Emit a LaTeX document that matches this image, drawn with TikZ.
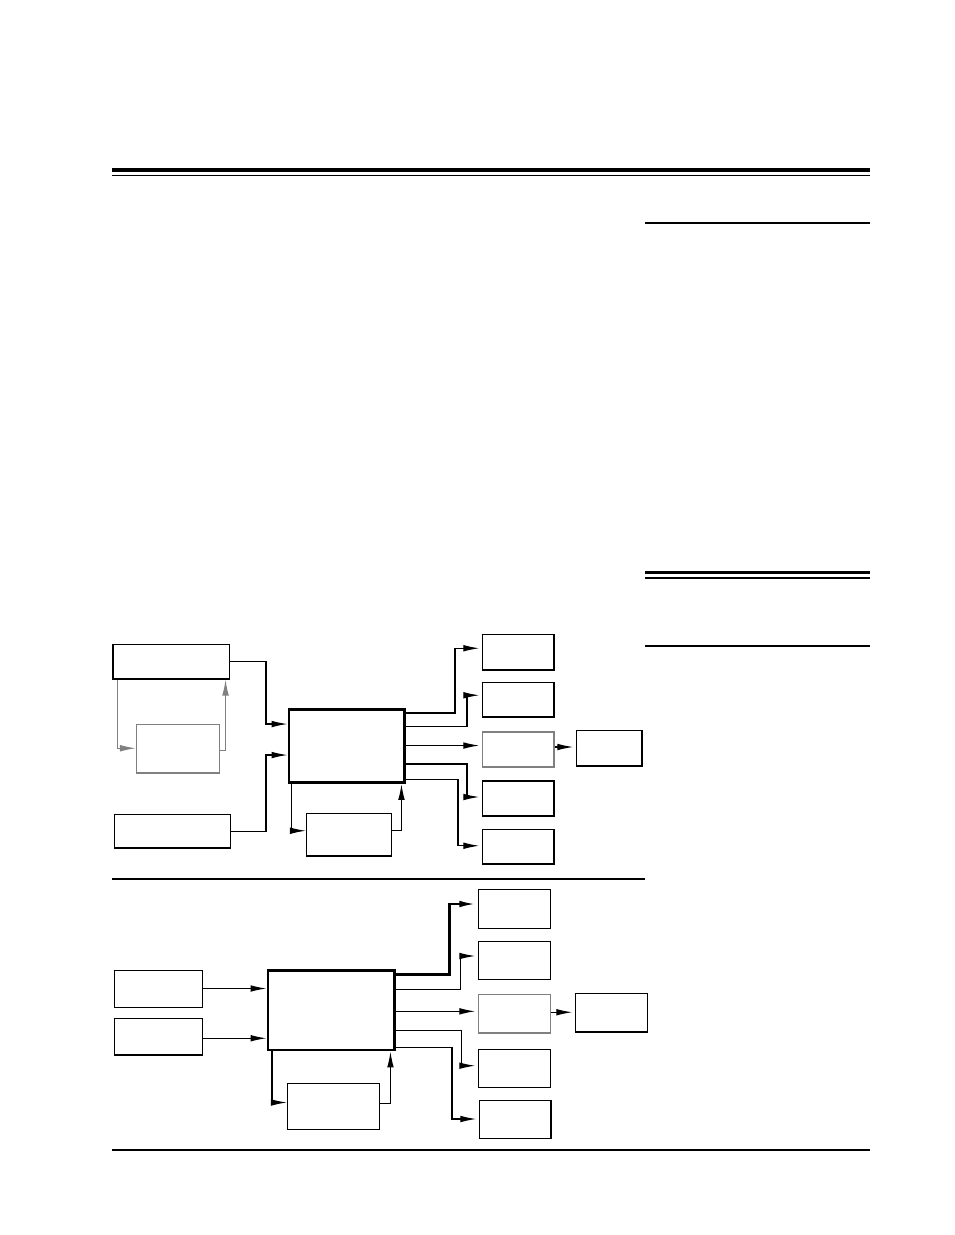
\documentclass[tikz,border=0pt]{standalone}
\usetikzlibrary{calc,fit,arrows.meta}

\begin{document}
\begin{tikzpicture}[x=0.75pt,y=-0.75pt,
  box/.style={draw,line width=0.8pt,inner sep=0pt},
  graybox/.style={box,draw=black!50},
  mainbox/.style={draw,line width=2.2pt,inner sep=0pt},
  link/.style={line width=0.9pt,-{Latex[length=12pt,width=5pt]}},
  graylink/.style={link,draw=black!50},
  rule/.style={line width=0.8pt}]
\useasboundingbox (0,0) rectangle (954,1235);
% page rules
\draw [line width=3pt] (112,170) -- (870,170);
\draw [rule] (112,175.5) -- (870,175.5);
\draw [rule] (645,223) -- (870,223);
\draw [line width=2.4pt] (645,572.5) -- (870,572.5);
\draw [rule] (645,578) -- (870,578);
\draw [line width=1.5pt] (645,646) -- (870,646);
\draw [rule] (112,879) -- (645,879);
\draw [rule] (112,1150) -- (870,1150);
% upper diagram
\node [box, fit={(113,644.5) (229.5,679)}] (srcA) {};
\node [graybox, fit={(136.5,724.5) (219.5,773)}] (aux) {};
\node [box, fit={(114.5,814.5) (230.5,848)}] (srcB) {};
\node [mainbox, fit={(289,709.5) (404.5,782.5)}] (core) {};
\node [box, fit={(306.5,813.5) (391.5,856)}] (loop) {};
\node [box, fit={(482.5,634.5) (554,670)}] (outA) {};
\node [box, fit={(482.5,682.5) (554,717)}] (outB) {};
\node [graybox, fit={(482.5,732) (554,767)}] (outC) {};
\node [box, fit={(482.5,781) (554,816)}] (outD) {};
\node [box, fit={(482.5,829.5) (554,864)}] (outE) {};
\node [box, fit={(576.5,730.5) (642,766)}] (ext) {};
\coordinate (coreC) at ($(core.north east)+(0,37.5)$);
\coordinate (outCR) at ($(outC.east)+(0,-2.5)$);
\draw [link] (srcA.east) -- ++(36,0) |- ($(core.north west)+(0,16)$);
\draw [link] (srcB.east) -- ++(35,0) |- ($(core.north west)+(0,47)$);
\draw [graylink] ($(srcA.south west)+(5,0)$) |- ($(aux.west)+(0,-0.5)$);
\draw [graylink] ($(aux.east)+(0,1.5)$) -| ($(srcA.south east)+(-4.5,0)$);
\draw [link] ($(core.south west)+(4,0)$) |- ($(loop.west)+(0,-4)$);
\draw [link] ($(loop.east)+(0,-4)$) -| ($(core.south east)+(-4.5,0)$);
\draw [link,shorten >=2pt] ($(core.north east)+(0,5)$) -- ++(49,0) |- ($(outA.west)+(0,-4)$);
\draw [link,shorten >=2pt] ($(core.north east)+(0,18.5)$) -- ++(61,0) |- ($(outB.west)+(0,-4.5)$);
\draw [link,shorten >=2pt] (coreC) -- (coreC -| outC.west);
\draw [link,shorten >=2pt] ($(core.north east)+(0,56)$) -- ++(61,0) |- ($(outD.west)+(0,-1.5)$);
\draw [link,shorten >=2pt] ($(core.north east)+(0,71.5)$) -- ++(52,0) |- ($(outE.west)+(0,-1)$);
\draw [link,shorten >=2pt] (outCR) -- (outCR -| ext.west);
% lower diagram
\node [box, fit={(114.5,970.5) (202.5,1007.5)}] (inA) {};
\node [box, fit={(114.5,1018.5) (202.5,1055)}] (inB) {};
\node [mainbox, fit={(268,970.5) (394.5,1050)}] (unit) {};
\node [box, fit={(287.5,1083.5) (379.5,1129.5)}] (back) {};
\node [box, fit={(478.5,889.5) (550.5,928.5)}] (resA) {};
\node [box, fit={(478.5,941.5) (550.5,979.5)}] (resB) {};
\node [graybox, fit={(478.5,994.5) (550.5,1033)}] (resC) {};
\node [box, fit={(478.5,1049.5) (550.5,1087.5)}] (resD) {};
\node [box, fit={(479.5,1100.5) (551,1138.5)}] (resE) {};
\node [box, fit={(575.5,993.5) (647.5,1032)}] (dev) {};
\coordinate (inAR) at ($(inA.east)+(0,-0.5)$);
\coordinate (inBR) at ($(inB.east)+(0,1.5)$);
\coordinate (unitC) at ($(unit.north east)+(0,42.3)$);
\coordinate (resCR) at ($(resC.east)+(0,-1.5)$);
\draw [link] (inAR) -- (inAR -| unit.west);
\draw [link] (inBR) -- (inBR -| unit.west);
\draw [link] ($(unit.south west)+(5.5,0)$) |- ($(back.west)+(0,-4)$);
\draw [link] ($(back.east)+(0,-3)$) -| ($(unit.south east)+(-5.5,0)$);
\draw [link,line width=1.6pt,shorten >=2pt] ($(unit.north east)+(0,5.5)$) -- ++(53.5,0) |- ($(resA.west)+(0,-5)$);
\draw [link,shorten >=2pt] ($(unit.north east)+(0,20.5)$) -- ++(64.5,0) |- ($(resB.west)+(0,-4.5)$);
\draw [link,shorten >=2pt] (unitC) -- (unitC -| resC.west);
\draw [link,shorten >=2pt] ($(unit.north east)+(0,61.3)$) -- ++(65.5,0) |- ($(resD.west)+(0,-2.8)$);
\draw [link,shorten >=2pt] ($(unit.north east)+(0,78.3)$) -- ++(56,0) |- ($(resE.west)+(0,-0.5)$);
\draw [link,shorten >=2pt] (resCR) -- (resCR -| dev.west);
\end{tikzpicture}
\end{document}
